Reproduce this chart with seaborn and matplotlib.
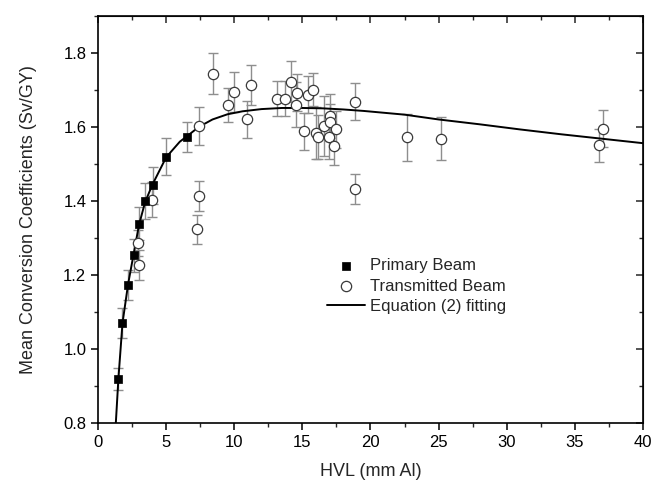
import matplotlib
matplotlib.use("Agg")
import matplotlib.pyplot as plt
from matplotlib.ticker import MultipleLocator
import seaborn as sns

# primary beam (squares)
prim_hvl = [1.49, 1.79, 2.20, 2.60, 3.00, 3.45, 4.00, 5.02, 6.56]
prim_coef = [0.920, 1.070, 1.174, 1.253, 1.339, 1.400, 1.442, 1.519, 1.573]
prim_err = [0.030, 0.040, 0.040, 0.045, 0.045, 0.048, 0.050, 0.050, 0.040]

# transmitted beam (open circles)
trans_hvl = [2.94, 2.99, 3.96, 7.29, 7.39, 7.39, 8.44, 9.57, 9.96, 10.90, 11.20,
             13.10, 13.75, 14.17, 14.60, 14.55, 15.15, 15.38, 15.75, 16.00, 16.15,
             16.60, 16.95, 17.00, 17.05, 17.45, 17.30, 18.86, 18.86, 22.65, 25.20,
             36.76, 37.05]
trans_coef = [1.286, 1.228, 1.403, 1.324, 1.414, 1.603, 1.744, 1.660, 1.694, 1.620, 1.713,
              1.676, 1.676, 1.722, 1.692, 1.660, 1.588, 1.687, 1.700, 1.584, 1.573,
              1.602, 1.574, 1.630, 1.612, 1.593, 1.548, 1.668, 1.432, 1.572, 1.568,
              1.550, 1.595]
trans_err = [0.035, 0.040, 0.047, 0.039, 0.040, 0.051, 0.056, 0.046, 0.055, 0.050, 0.055,
             0.047, 0.047, 0.055, 0.050, 0.060, 0.050, 0.050, 0.045, 0.070, 0.060,
             0.080, 0.060, 0.060, 0.050, 0.050, 0.050, 0.050, 0.040, 0.063, 0.058,
             0.045, 0.050]

# equation (2) fitting curve
fit_hvl = [1.30, 1.49, 1.79, 2.2, 2.6, 3.0, 3.45, 4.0, 5.0, 6.0, 6.5, 7.4, 8.4, 9.5,
           10.6, 12, 13.5, 15, 16.5, 18, 19.5, 22.5, 25, 28, 31, 34, 37, 40]
fit_coef = [0.80, 0.92, 1.07, 1.175, 1.255, 1.335, 1.397, 1.445, 1.518, 1.560, 1.574,
            1.600, 1.620, 1.634, 1.642, 1.648, 1.651, 1.651, 1.650, 1.647, 1.643,
            1.633, 1.620, 1.607, 1.593, 1.580, 1.568, 1.556]

sns.set_style("ticks")
plt.rcParams['font.family'] = ['Liberation Sans', 'DejaVu Sans']

fig = plt.figure(figsize=(6.54, 4.88), dpi=100)
ax = fig.add_axes([0.150, 0.1326, 0.833, 0.8352])

err_kw = dict(fmt='none', ecolor='#8e8e8e', elinewidth=1.0, capsize=3.5, capthick=1.0, zorder=1)
ax.errorbar(trans_hvl, trans_coef, yerr=trans_err, **err_kw)
ax.errorbar(prim_hvl, prim_coef, yerr=prim_err, **err_kw)

sns.lineplot(x=fit_hvl, y=fit_coef, ax=ax, color='black', linewidth=1.4, zorder=2,
             label='Equation (2) fitting', sort=False)
sns.scatterplot(x=trans_hvl, y=trans_coef, ax=ax, marker='o', s=55, facecolor='white',
                edgecolor='#3a3a3a', linewidth=0.9, zorder=3, label='Transmitted Beam')
sns.scatterplot(x=prim_hvl, y=prim_coef, ax=ax, marker='s', s=36, color='black',
                edgecolor='black', linewidth=0.5, zorder=4, label='Primary Beam')

ax.set_xlim(0, 40)
ax.set_ylim(0.8, 1.9)
ax.xaxis.set_major_locator(MultipleLocator(5))
ax.xaxis.set_minor_locator(MultipleLocator(2.5))
ax.yaxis.set_minor_locator(MultipleLocator(0.1))
ax.set_yticks([0.8, 1.0, 1.2, 1.4, 1.6, 1.8])
ax.set_yticklabels(['0.8', '1.0', '1.2', '1.4', '1.6', '1.8'])

for s in ax.spines.values():
    s.set_linewidth(1.2)
    s.set_color('black')
ax.tick_params(which='major', direction='out', length=5, width=1.1, labelsize=12, colors='black')
ax.tick_params(which='minor', direction='out', length=3, width=1.0)

# mirrored ticks on top and right, pointing into the plot
top = ax.secondary_xaxis('top')
top.xaxis.set_major_locator(MultipleLocator(5))
top.xaxis.set_minor_locator(MultipleLocator(2.5))
top.tick_params(which='major', direction='in', length=5, width=1.1, labeltop=False)
top.tick_params(which='minor', direction='in', length=3, width=1.0)
right = ax.secondary_yaxis('right')
right.yaxis.set_major_locator(MultipleLocator(0.2))
right.yaxis.set_minor_locator(MultipleLocator(0.1))
right.tick_params(which='major', direction='in', length=5, width=1.1, labelright=False)
right.tick_params(which='minor', direction='in', length=3, width=1.0)

ax.set_xlabel('HVL (mm Al)', fontsize=13, labelpad=9)
ax.set_ylabel('Mean Conversion Coefficients (Sv/GY)', fontsize=13, labelpad=19)

handles, labels = ax.get_legend_handles_labels()
order = [labels.index('Primary Beam'), labels.index('Transmitted Beam'),
         labels.index('Equation (2) fitting')]
ax.legend([handles[i] for i in order], [labels[i] for i in order],
          loc='upper left', bbox_to_anchor=(0.42, 0.405), frameon=False, fontsize=12,
          handlelength=2.3, handletextpad=0.3, labelspacing=0.32, borderpad=0,
          borderaxespad=0)

fig.savefig('out.png', dpi=100)
